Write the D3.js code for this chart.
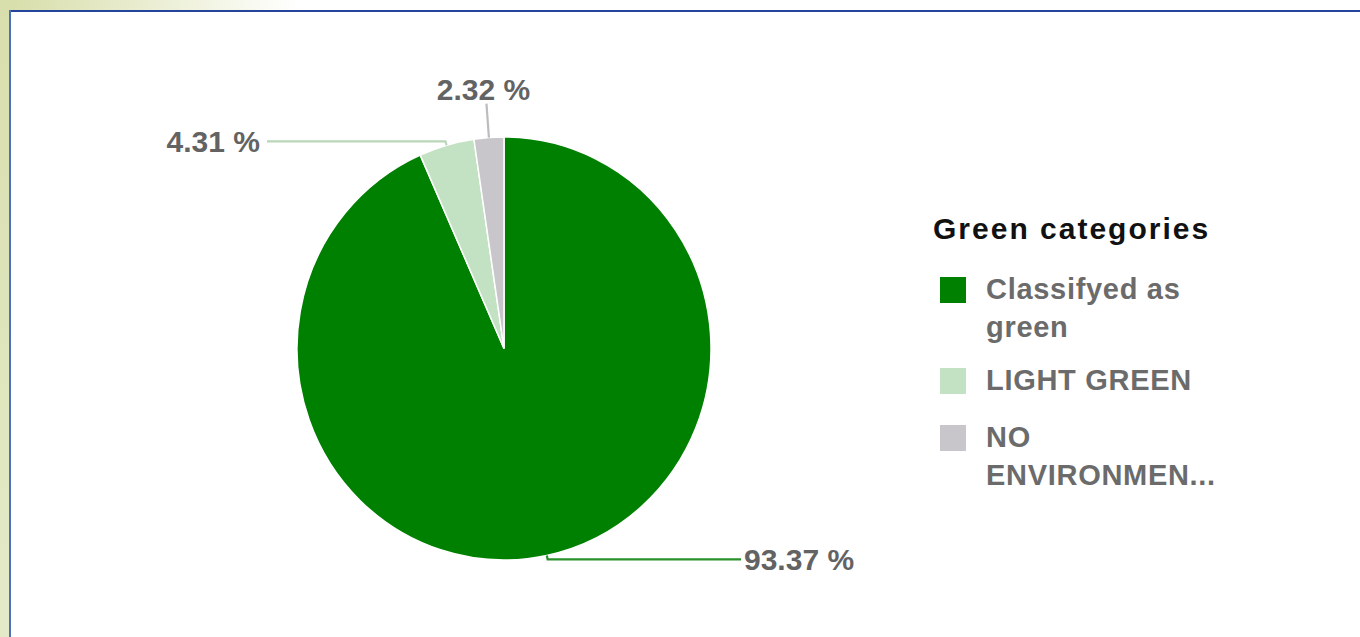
<!DOCTYPE html>
<html>
<head>
<meta charset="utf-8">
<script src="https://cdn.jsdelivr.net/npm/d3@7"></script>
<style>
  html, body { margin: 0; padding: 0; background: #fff; }
  svg { display: block; }
</style>
</head>
<body>
<svg id="chart" width="1360" height="637"></svg>
<script>
// Share of items per green category
const categories = ["Classifyed as green", "LIGHT GREEN", "NO ENVIRONMEN..."];
const shares = [93.37, 4.31, 2.32];
const sliceColors = ["#008000", "#c3e2c3", "#c8c5cb"];
const legendTitle = "Green categories";

const W = 1360, H = 637;
const svg = d3.select("#chart");
const FONT = "'Liberation Sans', Arial, sans-serif";

// Slide backdrop: olive strip on the left, fading band along the top
const defs = svg.append("defs");
const topGrad = defs.append("linearGradient").attr("id", "topFade").attr("x1", 0).attr("x2", 1).attr("y1", 0).attr("y2", 0);
topGrad.append("stop").attr("offset", 0).attr("stop-color", "#d7dda8");
topGrad.append("stop").attr("offset", 0.13).attr("stop-color", "#eef1da");
topGrad.append("stop").attr("offset", 0.22).attr("stop-color", "#ffffff");
const leftGrad = defs.append("linearGradient").attr("id", "leftFade").attr("x1", 0).attr("x2", 0).attr("y1", 0).attr("y2", 1);
leftGrad.append("stop").attr("offset", 0).attr("stop-color", "#d8deac");
leftGrad.append("stop").attr("offset", 1).attr("stop-color", "#e4eac8");

svg.append("rect").attr("x", 0).attr("y", 0).attr("width", W).attr("height", 11).attr("fill", "url(#topFade)");
svg.append("rect").attr("x", 0).attr("y", 0).attr("width", 10).attr("height", H).attr("fill", "url(#leftFade)");

// Chart panel with blue frame
svg.append("rect").attr("x", 11).attr("y", 12).attr("width", W - 11).attr("height", H - 12).attr("fill", "#fff");
svg.append("line").attr("x1", 10).attr("x2", W).attr("y1", 11).attr("y2", 11)
  .attr("stroke", "#24459c").attr("stroke-width", 2);
svg.append("line").attr("x1", 10).attr("x2", 10).attr("y1", 10).attr("y2", H)
  .attr("stroke", "#4d70bd").attr("stroke-width", 2);

// Pie (drawn slightly narrower than tall)
const cx = 504, cy = 348.5, rx = 207, ry = 211.5;
const data = categories.map((c, i) => ({ name: c, value: shares[i], color: sliceColors[i] }));
const pie = d3.pie().value(d => d.value).sort(null);
const arcs = pie(data);
const arc = d3.arc().innerRadius(0).outerRadius(ry);

const g = svg.append("g").attr("transform", `translate(${cx},${cy})`);
g.append("g").attr("transform", `scale(${rx / ry},1)`)
  .selectAll("path.slice").data(arcs).join("path")
  .attr("class", "slice")
  .attr("d", arc)
  .attr("fill", d => d.data.color)
  .attr("stroke", "#fff")
  .attr("stroke-width", 1.5)
  .attr("vector-effect", "non-scaling-stroke");

// Leader lines and percentage labels
const labelFont = 30;
const fmt = v => v.toFixed(2) + " %";
const pt = (a, dr) => [(rx + dr) * Math.sin(a), -(ry + dr) * Math.cos(a)];
const reach = 237;

arcs.forEach(d => {
  const mid = (d.startAngle + d.endAngle) / 2;
  const [x0, y0] = pt(mid, 0);
  const nearTop = Math.abs(Math.sin(mid)) < 0.15 && Math.cos(mid) > 0;
  let pathPts, tx, ty, anchor;
  if (nearTop) {
    const [x1, y1] = pt(mid, 34);
    pathPts = [[x0, y0], [x1, y1]];
    tx = x1 - 3; ty = y1 - 3.5; anchor = "middle";
  } else {
    const [x1, y1] = pt(mid, 4);
    const side = Math.sin(mid) >= 0 ? 1 : -1;
    const x2 = side * reach;
    pathPts = [[x0, y0], [x1, y1], [x2, y1]];
    tx = x2 + side * (side > 0 ? 3 : 7); ty = y1 + 10.5; anchor = side > 0 ? "start" : "end";
  }
  g.append("path")
    .attr("d", d3.line()(pathPts))
    .attr("fill", "none")
    .attr("stroke", d.data.color === "#008000" ? "#2a912a" : d3.color(d.data.color).darker(0.15))
    .attr("stroke-width", 2.2);
  g.append("text")
    .attr("x", tx).attr("y", ty)
    .attr("text-anchor", anchor)
    .attr("font-family", FONT).attr("font-weight", "bold")
    .attr("font-size", labelFont)
    .attr("fill", "#636363")
    .text(fmt(d.data.value));
});

// Legend
const lg = svg.append("g").attr("transform", "translate(933,0)");
lg.append("text")
  .attr("x", 0).attr("y", 239)
  .attr("font-family", FONT).attr("font-weight", "bold")
  .attr("font-size", 30).attr("letter-spacing", 2.0)
  .attr("fill", "#111")
  .text(legendTitle);

const itemTops = [277, 368, 425];
const lineGap = 38;
const maxW = 225;
data.forEach((d, i) => {
  const top = itemTops[i];
  lg.append("rect")
    .attr("x", 7).attr("y", top)
    .attr("width", 26).attr("height", 26)
    .attr("fill", d.color);
  const t = lg.append("text")
    .attr("font-family", FONT).attr("font-weight", "bold")
    .attr("font-size", 29).attr("letter-spacing", 0.7)
    .attr("fill", "#6b6b6b");
  // word wrap within the legend column
  const words = d.name.split(" ");
  let line = [], lineNo = 0;
  let tspan = t.append("tspan").attr("x", 53).attr("y", top + 22);
  words.forEach(w => {
    line.push(w);
    tspan.text(line.join(" "));
    if (tspan.node().getComputedTextLength() > maxW && line.length > 1) {
      line.pop();
      tspan.text(line.join(" "));
      line = [w];
      lineNo++;
      tspan = t.append("tspan").attr("x", 53).attr("y", top + 22 + lineNo * lineGap).text(w);
    }
  });
});
</script>
</body>
</html>
